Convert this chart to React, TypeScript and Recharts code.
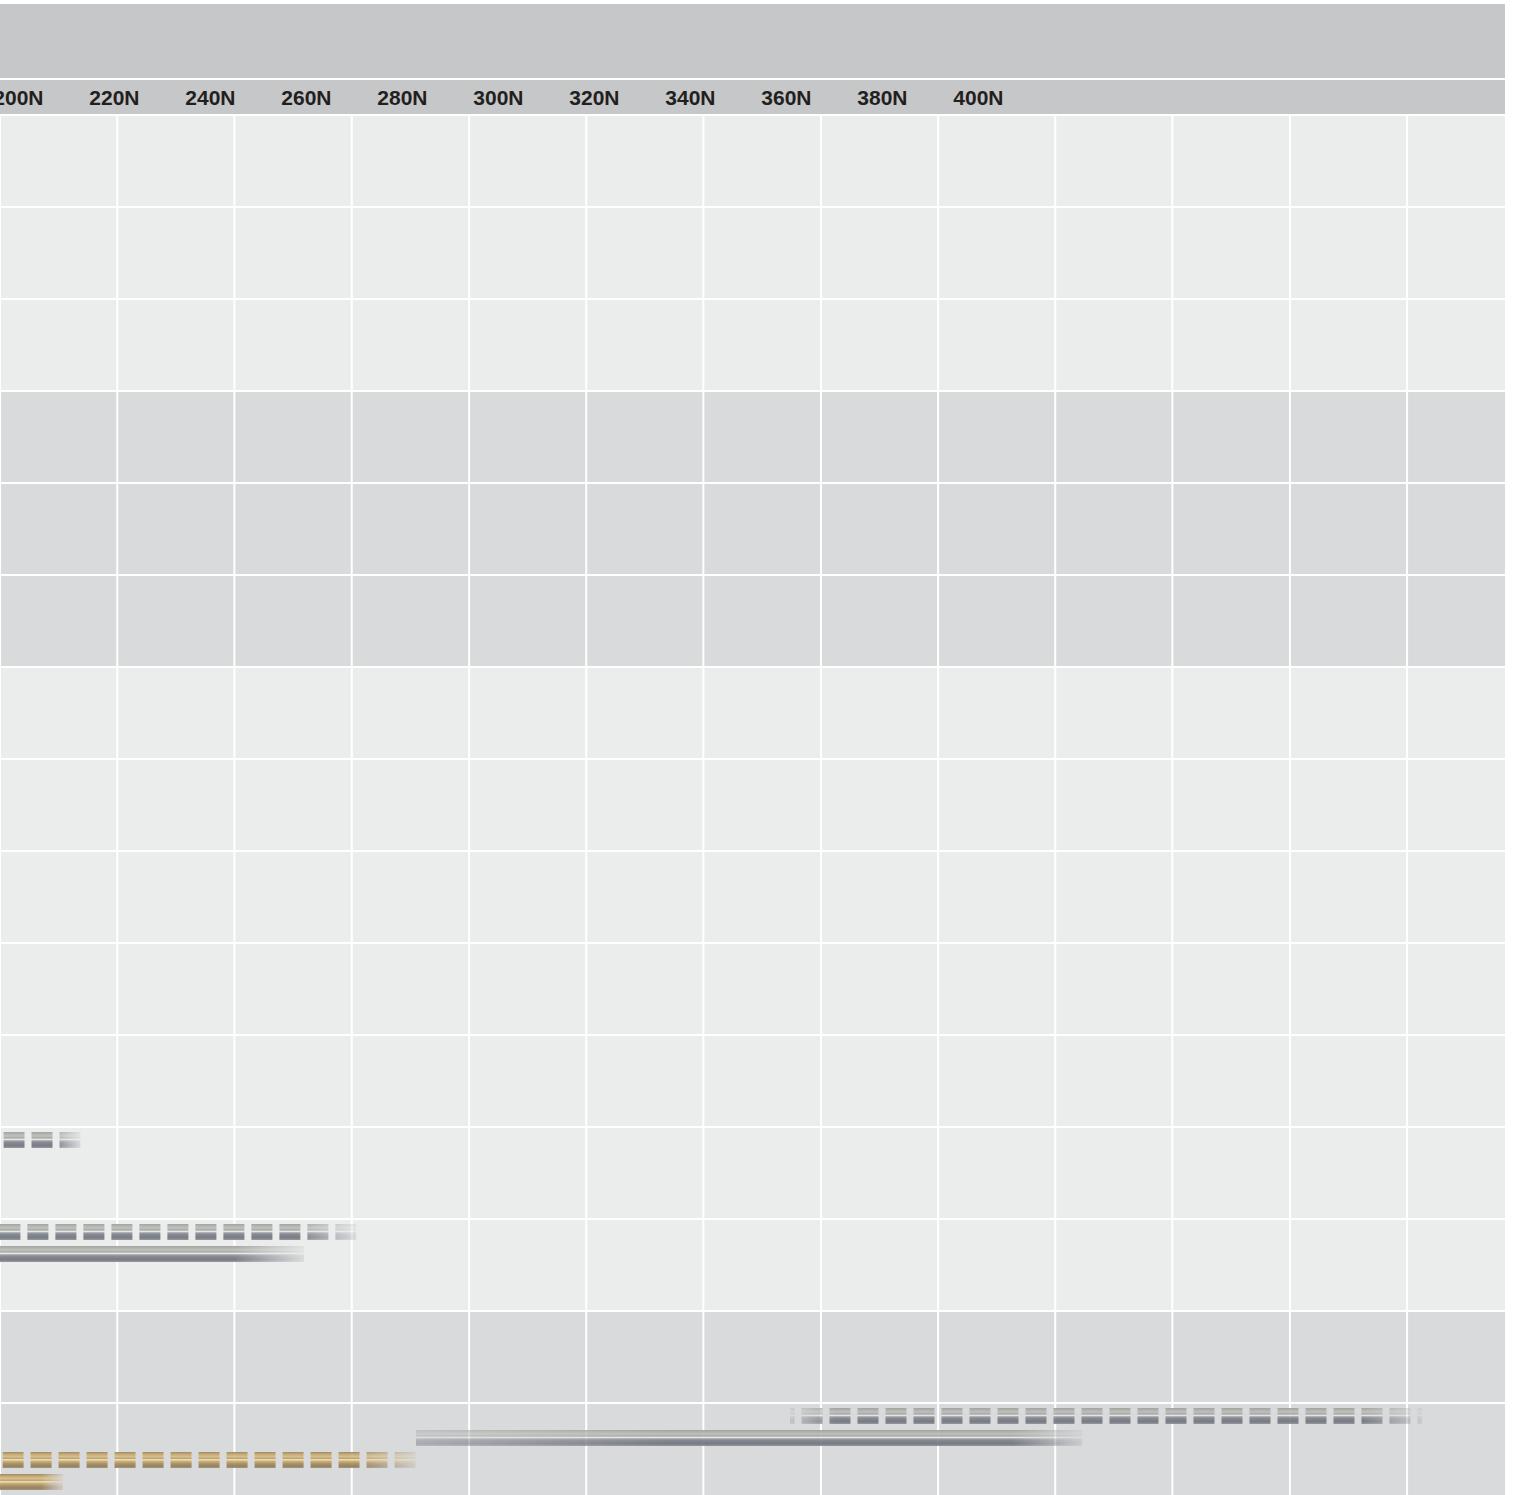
import React from "react";
import { BarChart, Bar, XAxis, YAxis, CartesianGrid } from "recharts";

type Range = [number, number] | null;

const ROWS = ["1", "2", "3", "4", "5", "6", "7", "8", "9", "10", "11", "12", "13", "14", "15"];
const FORCE_TICKS = [200, 220, 240, 260, 280, 300, 320, 340, 360, 380, 400];
const FORCE_DOMAIN = [196.17, 509.7];
// grid column edges, in N (the columns do not line up with the ticks)
const GRID_COLUMNS = [196.17, 220.6, 245.0, 269.45, 293.9, 318.3, 342.7, 367.2, 391.6, 416.0, 440.4, 464.9, 489.3];
const ROW_SHADES = ["light", "light", "light", "dark", "dark", "dark", "light", "light", "light", "light", "light", "light", "light", "dark", "dark"];

// force ranges in N, one entry per row
const GREY_DASHED: Range[] = [null, null, null, null, null, null, null, null, null, null, null, [196.85, 213.0], [195.96, 270.5], null, [360.75, 492.4]];
const GREY_SOLID: Range[] = [null, null, null, null, null, null, null, null, null, null, null, null, [196.1, 259.5], null, [282.8, 421.6]];
const GOLD_DASHED: Range[] = [null, null, null, null, null, null, null, null, null, null, null, null, null, null, [196.65, 282.8]];
const GOLD_SOLID: Range[] = [null, null, null, null, null, null, null, null, null, null, null, null, null, null, [196.1, 209.3]];

const SHADE = { light: "#EBEDEC", dark: "#D9DADC" };
const HEADER = "#C6C7C9";

const METAL = {
  grey: [
    [0, "#9c9e9a"],
    [0.12, "#abada9"],
    [0.25, "#bdbeba"],
    [0.38, "#a0a29e"],
    [0.46, "#eceeec"],
    [0.54, "#a3a6ab"],
    [0.62, "#80848c"],
    [0.85, "#6e727b"],
    [1, "#8e9198"],
  ],
  gold: [
    [0, "#9a8458"],
    [0.15, "#c4a870"],
    [0.3, "#d8bf88"],
    [0.4, "#b89a62"],
    [0.48, "#f6e6b8"],
    [0.56, "#d0b27a"],
    [0.72, "#a88e5e"],
    [0.88, "#8e7a56"],
    [1, "#a0906c"],
  ],
} as const;

const data = ROWS.map((row, i) => ({
  row,
  greyDashed: GREY_DASHED[i],
  greySolid: GREY_SOLID[i],
  goldDashed: GOLD_DASHED[i],
  goldSolid: GOLD_SOLID[i],
}));

const DASH = 21;
const PERIOD = 28;

const scaleOf = (axis: any, v: any): number => {
  const s = axis?.scale;
  if (!s) return NaN;
  if (typeof s === "function") return s(v);
  if (typeof s.map === "function") return s.map(v);
  if (typeof s.apply === "function") return s.apply(v);
  return NaN;
};

function MetalBar(props: any) {
  const { x, y, width, height, background, payload, index, field, metal, dashed } = props;
  if (!payload || payload[field] == null) return null;
  if (!(width > 0) || !Number.isFinite(x)) return null;

  const left = background ? background.x : 0;
  const inside = x > left + 20;
  const fadeIn = inside ? (dashed ? 45 : 250) : 0;
  const startOp = inside ? (dashed ? 0.2 : 0.45) : 0.92;
  const fadeOut = Math.min(dashed ? 60 : 70, width * 0.35);
  const id = `${field}-${index}`;

  let pieces: { a: number; b: number }[] = [{ a: x, b: x + width }];
  if (dashed) {
    const k = Math.max(1, Math.floor((width + PERIOD - DASH) / PERIOD));
    const span = k * PERIOD - (PERIOD - DASH);
    const start0 = x + (width - span) / 2;
    pieces = [];
    for (let i = -1; i <= k; i++) {
      const a = Math.max(start0 + i * PERIOD, x);
      const b = Math.min(start0 + i * PERIOD + DASH, x + width);
      if (b - a > 0.5) pieces.push({ a, b });
    }
  }

  return (
    <g>
      <defs>
        <linearGradient id={`${id}-metal`} x1="0" y1="0" x2="0" y2="1">
          {METAL[metal as "grey" | "gold"].map(([o, c]) => (
            <stop key={o} offset={o} stopColor={c} />
          ))}
        </linearGradient>
        <linearGradient
          id={`${id}-fade`}
          gradientUnits="userSpaceOnUse"
          x1={x}
          y1={0}
          x2={x + width}
          y2={0}
        >
          <stop offset={0} stopColor="#fff" stopOpacity={startOp} />
          <stop offset={Math.min(fadeIn / width, 0.5)} stopColor="#fff" stopOpacity={0.92} />
          <stop offset={Math.max(1 - fadeOut / width, 0.5)} stopColor="#fff" stopOpacity={0.92} />
          <stop offset={1} stopColor="#fff" stopOpacity={0.15} />
        </linearGradient>
        <mask
          id={`${id}-mask`}
          maskUnits="userSpaceOnUse"
          x={x - 2}
          y={y - 2}
          width={width + 4}
          height={height + 4}
        >
          <rect x={x} y={y} width={width} height={height} fill={`url(#${id}-fade)`} />
        </mask>
      </defs>
      <g mask={`url(#${id}-mask)`}>
        {pieces.map((p, i) => (
          <rect
            key={i}
            x={p.a}
            y={y}
            width={p.b - p.a}
            height={height}
            fill={`url(#${id}-metal)`}
          />
        ))}
      </g>
    </g>
  );
}

export default function App() {
  return (
    <div
      style={{
        position: "absolute",
        left: 0,
        top: 0,
        width: 1517,
        height: 1495,
        background: "#fff",
        overflow: "hidden",
      }}
    >
      <div style={{ position: "absolute", left: 0, top: 4, width: 1505, height: 74, background: HEADER }} />
      <div style={{ position: "absolute", left: 0, top: 80, width: 1505, height: 35, background: HEADER }} />
      <div style={{ position: "absolute", left: 0, top: 0 }}>
        <BarChart
          layout="vertical"
          width={1517}
          height={1495}
          data={data}
          margin={{ top: 78, right: 12, bottom: 0, left: 0 }}
          barGap={6}
          barCategoryGap={0}
        >
          <CartesianGrid
            xAxisId="n"
            yAxisId="rows"
            stroke="#ffffff"
            strokeWidth={2}
            horizontalFill={ROW_SHADES.map((s) => SHADE[s as "light" | "dark"])}
            fillOpacity={1}
            horizontalCoordinatesGenerator={({ yAxis }: any) =>
              ROWS.map((r) => Math.round(scaleOf(yAxis, r)))
            }
            verticalCoordinatesGenerator={({ xAxis }: any) =>
              GRID_COLUMNS.map((c) => scaleOf(xAxis, c))
            }
          />
          <XAxis
            xAxisId="n"
            type="number"
            orientation="top"
            domain={FORCE_DOMAIN}
            allowDataOverflow
            ticks={FORCE_TICKS}
            interval={0}
            tickFormatter={(v) => `${v}N`}
            height={37}
            axisLine={false}
            tickLine={false}
            tickSize={0}
            tickMargin={10}
            tick={{
              fontSize: 21,
              fontWeight: 700,
              fill: "#231f20",
              fontFamily: "'Liberation Sans', Arial, sans-serif",
            }}
          />
          <YAxis yAxisId="rows" type="category" dataKey="row" hide />
          <Bar
            xAxisId="n"
            yAxisId="rows"
            dataKey="greyDashed"
            barSize={16}
            isAnimationActive={false}
            shape={(p: any) => <MetalBar {...p} field="greyDashed" metal="grey" dashed />}
          />
          <Bar
            xAxisId="n"
            yAxisId="rows"
            dataKey="greySolid"
            barSize={16}
            isAnimationActive={false}
            shape={(p: any) => <MetalBar {...p} field="greySolid" metal="grey" />}
          />
          <Bar
            xAxisId="n"
            yAxisId="rows"
            dataKey="goldDashed"
            barSize={16}
            isAnimationActive={false}
            shape={(p: any) => <MetalBar {...p} field="goldDashed" metal="gold" dashed />}
          />
          <Bar
            xAxisId="n"
            yAxisId="rows"
            dataKey="goldSolid"
            barSize={16}
            isAnimationActive={false}
            shape={(p: any) => <MetalBar {...p} field="goldSolid" metal="gold" />}
          />
        </BarChart>
      </div>
    </div>
  );
}
